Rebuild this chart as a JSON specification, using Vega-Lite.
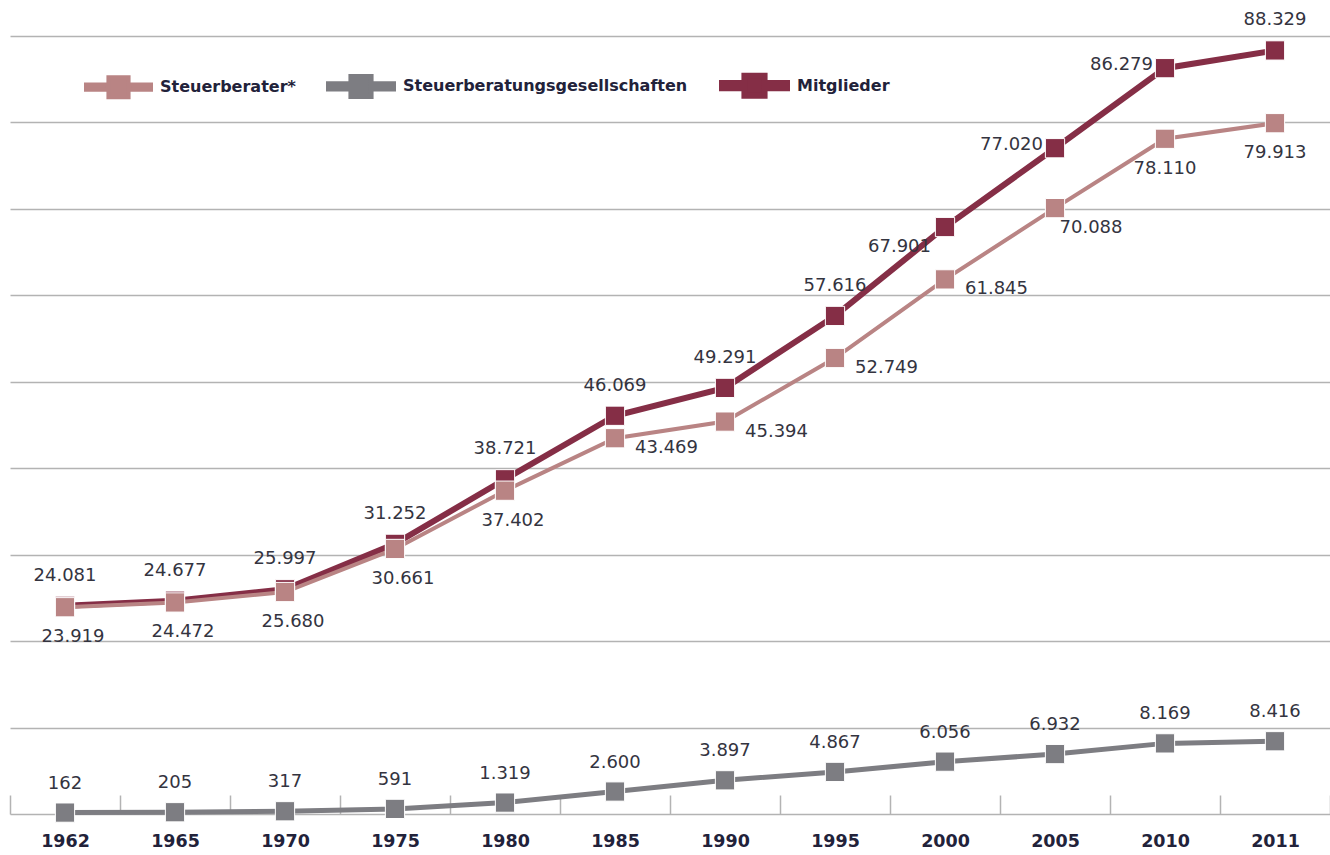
{
  "$schema": "https://vega.github.io/schema/vega-lite/v6.json",
  "width": 1320,
  "height": 778,
  "autosize": {"type": "none"},
  "padding": {"left": 10, "top": 36, "right": 0, "bottom": 41},
  "background": "white",
  "config": {
    "view": {"stroke": null},
    "locale": {"number": {"decimal": ",", "thousands": ".", "grouping": [3], "currency": ["", " €"]}},
    "font": "DejaVu Sans",
    "legend": {
      "orient": "none",
      "legendX": 74,
      "legendY": 14,
      "direction": "horizontal",
      "symbolType": "M-1,-0.08H-0.34V0.08H-1Z M-0.31,-0.31H0.31V0.31H-0.31Z M0.34,-0.08H1V0.08H0.34Z",
      "symbolSize": 4225,
      "symbolStrokeWidth": 0,
      "symbolOpacity": 1,
      "labelFont": "DejaVu Sans",
      "labelFontWeight": "bold",
      "labelFontSize": 16,
      "labelColor": "#22223a",
      "labelOffset": 7,
      "columnPadding": 22,
      "labelLimit": 400
    }
  },
  "data": {
    "values": [
      {"year": "1962", "series": "Steuerberatungsgesellschaften", "value": 162},
      {"year": "1965", "series": "Steuerberatungsgesellschaften", "value": 205},
      {"year": "1970", "series": "Steuerberatungsgesellschaften", "value": 317},
      {"year": "1975", "series": "Steuerberatungsgesellschaften", "value": 591},
      {"year": "1980", "series": "Steuerberatungsgesellschaften", "value": 1319},
      {"year": "1985", "series": "Steuerberatungsgesellschaften", "value": 2600},
      {"year": "1990", "series": "Steuerberatungsgesellschaften", "value": 3897},
      {"year": "1995", "series": "Steuerberatungsgesellschaften", "value": 4867},
      {"year": "2000", "series": "Steuerberatungsgesellschaften", "value": 6056},
      {"year": "2005", "series": "Steuerberatungsgesellschaften", "value": 6932},
      {"year": "2010", "series": "Steuerberatungsgesellschaften", "value": 8169},
      {"year": "2011", "series": "Steuerberatungsgesellschaften", "value": 8416},
      {"year": "1962", "series": "Mitglieder", "value": 24081},
      {"year": "1965", "series": "Mitglieder", "value": 24677},
      {"year": "1970", "series": "Mitglieder", "value": 25997},
      {"year": "1975", "series": "Mitglieder", "value": 31252},
      {"year": "1980", "series": "Mitglieder", "value": 38721},
      {"year": "1985", "series": "Mitglieder", "value": 46069},
      {"year": "1990", "series": "Mitglieder", "value": 49291},
      {"year": "1995", "series": "Mitglieder", "value": 57616},
      {"year": "2000", "series": "Mitglieder", "value": 67901},
      {"year": "2005", "series": "Mitglieder", "value": 77020},
      {"year": "2010", "series": "Mitglieder", "value": 86279},
      {"year": "2011", "series": "Mitglieder", "value": 88329},
      {"year": "1962", "series": "Steuerberater", "value": 23919},
      {"year": "1965", "series": "Steuerberater", "value": 24472},
      {"year": "1970", "series": "Steuerberater", "value": 25680},
      {"year": "1975", "series": "Steuerberater", "value": 30661},
      {"year": "1980", "series": "Steuerberater", "value": 37402},
      {"year": "1985", "series": "Steuerberater", "value": 43469},
      {"year": "1990", "series": "Steuerberater", "value": 45394},
      {"year": "1995", "series": "Steuerberater", "value": 52749},
      {"year": "2000", "series": "Steuerberater", "value": 61845},
      {"year": "2005", "series": "Steuerberater", "value": 70088},
      {"year": "2010", "series": "Steuerberater", "value": 78110},
      {"year": "2011", "series": "Steuerberater", "value": 79913}
    ]
  },
  "encoding": {
    "x": {
      "field": "year",
      "type": "ordinal",
      "sort": null,
      "bandPosition": 0.5,
      "scale": {"type": "band", "paddingInner": 0, "paddingOuter": 0},
      "axis": {
        "title": null,
        "labelAngle": 0,
        "domainColor": "#b3b3b3",
        "domainWidth": 1.5,
        "tickColor": "#b3b3b3",
        "tickWidth": 1.5,
        "tickSize": -19,
        "tickBand": "extent",
        "labelPadding": 37,
        "labelFont": "DejaVu Sans",
        "labelFontWeight": "bold",
        "labelFontSize": 17.5,
        "labelColor": "#22223a",
        "grid": false
      }
    },
    "y": {
      "field": "value",
      "type": "quantitative",
      "scale": {"domain": [0, 90000], "nice": false},
      "axis": {
        "title": null,
        "labels": false,
        "ticks": false,
        "domain": false,
        "values": [10000, 20000, 30000, 40000, 50000, 60000, 70000, 80000, 90000],
        "gridColor": "#b3b3b3",
        "gridWidth": 1.5
      }
    }
  },
  "layer": [
    {
      "mark": {"type": "line"},
      "encoding": {
        "color": {
          "field": "series",
          "type": "nominal",
          "scale": {"domain": ["Steuerberater", "Steuerberatungsgesellschaften", "Mitglieder"], "range": ["#b98484", "#7d7d82", "#852e46"]},
          "legend": {"title": null, "labelExpr": "datum.label == 'Steuerberater' ? 'Steuerberater*' : datum.label"}
        },
        "strokeWidth": {
          "field": "series",
          "type": "nominal",
          "scale": {"domain": ["Steuerberater", "Steuerberatungsgesellschaften", "Mitglieder"], "range": [4, 6, 5]},
          "legend": null
        }
      }
    },
    {
      "mark": {"type": "point", "shape": "square", "filled": true, "opacity": 1, "size": 370, "stroke": "white", "strokeWidth": 1},
      "encoding": {
        "color": {
          "field": "series",
          "type": "nominal",
          "legend": {"title": null, "labelExpr": "datum.label == 'Steuerberater' ? 'Steuerberater*' : datum.label"}
        }
      }
    },
    {
      "transform": [{"filter": "datum.series == 'Steuerberatungsgesellschaften'"}],
      "mark": {"type": "text", "dy": -29, "fontSize": 18, "color": "#34343f"},
      "encoding": {"text": {"field": "value", "type": "quantitative", "format": ","}}
    },
    {
      "transform": [{"filter": "datum.series == 'Mitglieder' && indexof(['2000','2005','2010'], datum.year) < 0"}],
      "mark": {"type": "text", "dy": -30, "fontSize": 18, "color": "#34343f"},
      "encoding": {"text": {"field": "value", "type": "quantitative", "format": ","}}
    },
    {
      "transform": [{"filter": "datum.series == 'Mitglieder' && (datum.year == '2005' || datum.year == '2010')"}],
      "mark": {"type": "text", "align": "right", "dx": -12, "dy": -3, "fontSize": 18, "color": "#34343f"},
      "encoding": {"text": {"field": "value", "type": "quantitative", "format": ","}}
    },
    {
      "transform": [{"filter": "datum.series == 'Mitglieder' && datum.year == '2000'"}],
      "mark": {"type": "text", "align": "right", "dx": -14, "dy": 20, "fontSize": 18, "color": "#34343f"},
      "encoding": {"text": {"field": "value", "type": "quantitative", "format": ","}}
    },
    {
      "transform": [{"filter": "datum.series == 'Steuerberater' && indexof(['1962','1965','1970','1975','1980'], datum.year) >= 0"}],
      "mark": {"type": "text", "dx": 8, "dy": 30, "fontSize": 18, "color": "#34343f"},
      "encoding": {"text": {"field": "value", "type": "quantitative", "format": ","}}
    },
    {
      "transform": [{"filter": "datum.series == 'Steuerberater' && indexof(['2010','2011'], datum.year) >= 0"}],
      "mark": {"type": "text", "dy": 30, "fontSize": 18, "color": "#34343f"},
      "encoding": {"text": {"field": "value", "type": "quantitative", "format": ","}}
    },
    {
      "transform": [{"filter": "datum.series == 'Steuerberater' && indexof(['1985','1990','1995','2000'], datum.year) >= 0"}],
      "mark": {"type": "text", "align": "left", "dx": 20, "dy": 10, "fontSize": 18, "color": "#34343f"},
      "encoding": {"text": {"field": "value", "type": "quantitative", "format": ","}}
    },
    {
      "transform": [{"filter": "datum.series == 'Steuerberater' && datum.year == '2005'"}],
      "mark": {"type": "text", "dx": 36, "dy": 20, "fontSize": 18, "color": "#34343f"},
      "encoding": {"text": {"field": "value", "type": "quantitative", "format": ","}}
    }
  ]
}
